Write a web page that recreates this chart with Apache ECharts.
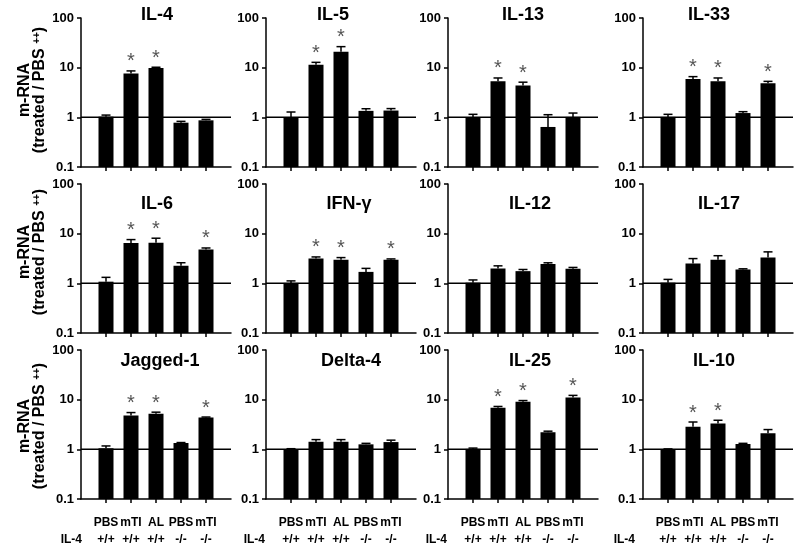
<!DOCTYPE html>
<html><head><meta charset="utf-8">
<script src="https://cdn.jsdelivr.net/npm/echarts@6/dist/echarts.min.js"></script>
<style>html,body{margin:0;padding:0;background:#fff}#c{width:800px;height:551px}</style>
</head><body><div id="c"></div>
<script>
// ---- data ----
const groups = ['PBS', 'mTI', 'AL', 'PBS', 'mTI'];
const genotypes = ['+/+', '+/+', '+/+', '-/-', '-/-'];
const genotypeLabel = 'IL-4';
const yTickLabels = ['0.1', '1', '10', '100'];
const refLevel = 1;
const panelTitles = ['IL-4', 'IL-5', 'IL-13', 'IL-33', 'IL-6', 'IFN-γ', 'IL-12', 'IL-17', 'Jagged-1', 'Delta-4', 'IL-25', 'IL-10'];

const il4Mean = [1.03, 7.6, 9.8, 0.78, 0.87];
const il4Err = [0.08, 1.0, 0.4, 0.05, 0.04];
const il4Sig = [0, 1, 1, 0, 0];
const il5Mean = [1.0, 11.5, 21, 1.35, 1.37];
const il5Err = [0.28, 1.3, 5.5, 0.14, 0.13];
const il5Sig = [0, 1, 1, 0, 0];
const il13Mean = [1.0, 5.3, 4.4, 0.64, 1.02];
const il13Err = [0.15, 0.9, 0.7, 0.49, 0.2];
const il13Sig = [0, 1, 1, 0, 0];
const il33Mean = [1.02, 5.9, 5.3, 1.22, 4.85];
const il33Err = [0.13, 0.7, 0.9, 0.08, 0.45];
const il33Sig = [0, 1, 1, 0, 1];
const il6Mean = [1.08, 6.5, 6.6, 2.25, 4.8];
const il6Err = [0.24, 1.1, 1.5, 0.35, 0.35];
const il6Sig = [0, 1, 1, 0, 1];
const ifngMean = [1.02, 3.15, 3.0, 1.7, 3.0];
const ifngErr = [0.1, 0.25, 0.3, 0.3, 0.1];
const ifngSig = [0, 1, 1, 0, 1];
const il12Mean = [1.03, 2.0, 1.76, 2.44, 1.96];
const il12Err = [0.14, 0.25, 0.14, 0.15, 0.13];
const il12Sig = [0, 0, 0, 0, 0];
const il17Mean = [1.03, 2.5, 3.0, 1.9, 3.3];
const il17Err = [0.17, 0.65, 0.6, 0.06, 1.0];
const il17Sig = [0, 0, 0, 0, 0];
const jag1Mean = [1.05, 4.8, 5.2, 1.34, 4.35];
const jag1Err = [0.12, 0.7, 0.4, 0.03, 0.12];
const jag1Sig = [0, 1, 1, 0, 1];
const dll4Mean = [1.0, 1.42, 1.42, 1.26, 1.4];
const dll4Err = [0.03, 0.15, 0.15, 0.06, 0.13];
const dll4Sig = [0, 0, 0, 0, 0];
const il25Mean = [1.02, 6.9, 9.1, 2.2, 11];
const il25Err = [0.04, 0.4, 0.5, 0.12, 1.2];
const il25Sig = [0, 1, 1, 0, 1];
const il10Mean = [1.0, 2.85, 3.3, 1.28, 2.1];
const il10Err = [0.02, 0.7, 0.55, 0.04, 0.4];
const il10Sig = [0, 1, 1, 0, 0];

const panelData = [
  [il4Mean, il4Err, il4Sig], [il5Mean, il5Err, il5Sig], [il13Mean, il13Err, il13Sig], [il33Mean, il33Err, il33Sig],
  [il6Mean, il6Err, il6Sig], [ifngMean, ifngErr, ifngSig], [il12Mean, il12Err, il12Sig], [il17Mean, il17Err, il17Sig],
  [jag1Mean, jag1Err, jag1Sig], [dll4Mean, dll4Err, dll4Sig], [il25Mean, il25Err, il25Sig], [il10Mean, il10Err, il10Sig]
];

// ---- layout ----
const FONT = '"Liberation Sans", Arial, sans-serif';
const colX = [81, 266, 448, 643];
const rowTop = [18, 184, 350];
const PW = 150, PH = 149;
const titlePos = [
  [157, 15], [333, 15], [523, 15], [709, 15],
  [157, 204], [349, 204], [530, 204], [719, 204],
  [160, 361], [351, 361], [530, 361], [714, 361]
];
const il4LabelRight = [82, 265, 447, 635];

const grids = [], xAxes = [], yAxes = [], series = [], graphics = [];

function renderBar(params, api) {
  const x = api.value(0), v = api.value(1), e = api.value(2), s = api.value(3);
  const top = api.coord([x, v]);
  const base = api.coord([x, 0.1]);
  const hi = api.coord([x, v + e]);
  const children = [
    { type: 'rect', shape: { x: top[0] - 7.5, y: top[1], width: 15, height: base[1] - top[1] }, style: { fill: '#000' } },
    { type: 'line', shape: { x1: top[0], y1: top[1], x2: top[0], y2: hi[1] }, style: { stroke: '#000', lineWidth: 1.5 } },
    { type: 'line', shape: { x1: top[0] - 4.5, y1: hi[1], x2: top[0] + 4.5, y2: hi[1] }, style: { stroke: '#000', lineWidth: 1.5 } }
  ];
  if (s) {
    children.push({ type: 'text', x: top[0], y: hi[1] - 19,
      style: { text: '*', fill: '#555', font: '20px ' + FONT, align: 'center', verticalAlign: 'top' } });
  }
  return { type: 'group', children };
}

for (let i = 0; i < 12; i++) {
  const r = Math.floor(i / 4), c = i % 4;
  const [mean, err, sig] = panelData[i];
  grids.push({ left: colX[c], top: rowTop[r], width: PW, height: PH, containLabel: false });
  const bottomRow = r === 2;
  xAxes.push({
    type: 'value', gridIndex: i, min: 0, max: 6, interval: 1,
    axisLine: { show: true, lineStyle: { color: '#000', width: 1.5 } },
    axisTick: { show: true, customValues: [1, 2, 3, 4, 5], length: 4, inside: false, lineStyle: { color: '#000', width: 1.5 } },
    axisLabel: bottomRow ? {
      show: true, customValues: [1, 2, 3, 4, 5], margin: 15,
      formatter: v => groups[v - 1] + '\n' + genotypes[v - 1],
      color: '#000', fontWeight: 'bold', fontSize: 12, fontFamily: FONT, lineHeight: 17
    } : { show: false },
    splitLine: { show: false }
  });
  yAxes.push({
    type: 'log', logBase: 10, gridIndex: i, min: 0.1, max: 100,
    axisLine: { show: true, lineStyle: { color: '#000', width: 1.5 } },
    axisTick: { show: true, length: 4, inside: false, lineStyle: { color: '#000', width: 1.5 } },
    minorTick: { show: false },
    axisLabel: {
      margin: 7, color: '#000', fontWeight: 'bold', fontSize: 13, fontFamily: FONT,
      formatter: v => yTickLabels[Math.round(Math.log10(v)) + 1]
    },
    splitLine: { show: false }
  });
  series.push({
    type: 'line', xAxisIndex: i, yAxisIndex: i, data: [[0, refLevel], [6, refLevel]],
    symbol: 'none', lineStyle: { color: '#000', width: 1.5 }, silent: true, z: 1
  });
  series.push({
    type: 'custom', xAxisIndex: i, yAxisIndex: i, renderItem: renderBar, z: 3,
    encode: { x: 0, y: 1 },
    data: mean.map((m, k) => [k + 1, m, err[k], sig[k]]), clip: false
  });
  graphics.push({
    type: 'text', x: titlePos[i][0], y: titlePos[i][1],
    style: { text: panelTitles[i], font: 'bold 18px ' + FONT, fill: '#000', align: 'center', verticalAlign: 'middle' }
  });
  if (bottomRow) {
    graphics.push({
      type: 'text', x: il4LabelRight[c], y: 540,
      style: { text: genotypeLabel, font: 'bold 12px ' + FONT, fill: '#000', align: 'right', verticalAlign: 'middle' }
    });
  }
}
const yNameCenters = [90, 252, 426];
for (let r = 0; r < 3; r++) {
  graphics.push({
    type: 'text', x: 32, y: yNameCenters[r], rotation: Math.PI / 2,
    style: {
      text: '{a|m-RNA}\n{a|(treated / PBS }{s|++}{a|)}',
      align: 'center', verticalAlign: 'middle',
      rich: {
        a: { font: 'bold 16px ' + FONT, fill: '#000', lineHeight: 15 },
        s: { font: 'bold 10px ' + FONT, fill: '#000', lineHeight: 15, verticalAlign: 'top' }
      }
    }
  });
}

const chart = echarts.init(document.getElementById('c'), null, { renderer: 'canvas' });
chart.setOption({
  animation: false,
  backgroundColor: '#fff',
  grid: grids, xAxis: xAxes, yAxis: yAxes, series, graphic: graphics
});
</script>
</body></html>
